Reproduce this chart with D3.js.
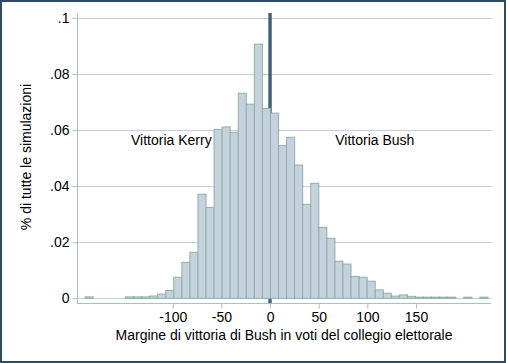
<!DOCTYPE html>
<html>
<head>
<meta charset="utf-8">
<script src="https://cdn.jsdelivr.net/npm/d3@7"></script>
<style>
  body { margin: 0; background: #fff; }
  svg text { font-family: "Liberation Sans", Arial, sans-serif; fill: #000; }
</style>
</head>
<body>
<div id="chart"></div>
<script>
var w = 507,
    h = 363;

// histogram: 50 bins between min and max margin
var binMin = -190,
    binMax = 224,
    nBins = 50;

// fraction of simulations per bin
var fractions = [
  0.0005, 0, 0, 0, 0, 0.0005, 0.0005, 0.0005, 0.0008, 0.0015,
  0.0028, 0.0075, 0.0128, 0.0164, 0.0371, 0.0324, 0.0602, 0.0611, 0.0592, 0.0731,
  0.0692, 0.0906, 0.0677, 0.0660, 0.0545, 0.0574, 0.0475, 0.0335, 0.0410, 0.0253,
  0.0214, 0.0132, 0.0122, 0.0078, 0.0075, 0.0061, 0.0030, 0.0018, 0.0008, 0.0012,
  0.0007, 0.0004, 0.0004, 0.0004, 0.0004, 0.0004, 0, 0.0004, 0, 0.0004
];

var xTicks = [-100, -50, 0, 50, 100, 150];
var yTicks = [0, 0.02, 0.04, 0.06, 0.08, 0.1];
var yTickLabels = ["0", ".02", ".04", ".06", ".08", ".1"];
var notes = [{text: "Vittoria Kerry", x: -60, y: 0.0564, anchor: "end"},
             {text: "Vittoria Bush", x: 67, y: 0.0564, anchor: "start"}];

var binW = (binMax - binMin) / nBins;
var bins = fractions.map(function(f, i){
  return {lo: binMin + i * binW, hi: binMin + (i + 1) * binW, f: f};
});

var fs = "14px";

var svg = d3.select("#chart")
  .append("svg")
  .attr("width", w)
  .attr("height", h);

svg.append("rect")
  .attr("width", w).attr("height", h)
  .attr("fill", "#fff");

// outer frame
svg.append("rect")
  .attr("x", 1).attr("y", 1)
  .attr("width", w - 3).attr("height", h - 2)
  .attr("fill", "none")
  .attr("stroke", "#2f4c64")
  .attr("stroke-width", 2);

var x = d3.scaleLinear()
  .domain([-198.4, 227.1])
  .range([77, 491]);

var y = d3.scaleLinear()
  .domain([0, 0.1])
  .range([298.3, 17.8]);

var plotTop = 13, plotBottom = 303;

// gridlines
svg.append("g")
  .selectAll("line")
  .data(yTicks)
  .enter()
  .append("line")
  .attr("x1", 77).attr("x2", 492)
  .attr("y1", function(d){ return Math.round(y(d)) + 0.5; })
  .attr("y2", function(d){ return Math.round(y(d)) + 0.5; })
  .attr("stroke", "#c3d1dd")
  .attr("stroke-width", 1);

// line at zero margin
svg.append("line")
  .attr("x1", x(0)).attr("x2", x(0))
  .attr("y1", plotTop).attr("y2", plotBottom)
  .attr("stroke", "#3b5f7d")
  .attr("stroke-width", 3.4);

// bars
svg.append("g")
  .selectAll("rect")
  .data(bins.filter(function(d){ return d.f > 0; }))
  .enter()
  .append("rect")
  .attr("x", function(d){ return x(d.lo); })
  .attr("width", function(d){ return x(d.hi) - x(d.lo); })
  .attr("y", function(d){ return y(d.f); })
  .attr("height", function(d){ return y(0) - y(d.f); })
  .attr("fill", "#c5d2de")
  .attr("stroke", "#8fb0a5")
  .attr("stroke-width", 1);

// y axis
var yAxis = d3.axisLeft(y)
  .tickValues(yTicks)
  .tickSize(5)
  .tickPadding(3)
  .tickFormat(function(d, i){ return yTickLabels[i]; });

var gy = svg.append("g")
  .attr("transform", "translate(77.5,0)")
  .call(yAxis);
gy.select(".domain").remove();
gy.append("line")
  .attr("x1", 0).attr("x2", 0)
  .attr("y1", plotTop).attr("y2", plotBottom + 1)
  .attr("stroke", "#a9bccc");
gy.selectAll(".tick line").attr("stroke", "#a9bccc");
gy.selectAll("text")
  .style("font-size", fs)
  .attr("fill", "#000");

// x axis
var xAxis = d3.axisBottom(x)
  .tickValues(xTicks)
  .tickSize(5)
  .tickPadding(4)
  .tickFormat(function(d){ return d < 0 ? "-" + Math.abs(d) : d; });

var gx = svg.append("g")
  .attr("transform", "translate(0," + (plotBottom + 0.5) + ")")
  .call(xAxis);
gx.select(".domain").remove();
gx.append("line")
  .attr("x1", 77).attr("x2", 491)
  .attr("stroke", "#a9bccc");
gx.selectAll(".tick line").attr("stroke", "#a9bccc");
gx.selectAll("text")
  .style("font-size", fs)
  .attr("fill", "#000");

// titles
svg.append("text")
  .attr("x", 284)
  .attr("y", 340)
  .attr("text-anchor", "middle")
  .style("font-size", fs)
  .text("Margine di vittoria di Bush in voti del collegio elettorale");

svg.append("text")
  .attr("transform", "translate(31,157) rotate(-90)")
  .attr("text-anchor", "middle")
  .style("font-size", fs)
  .text("% di tutte le simulazioni");

// annotations
svg.append("g")
  .selectAll("text")
  .data(notes)
  .enter()
  .append("text")
  .attr("x", function(d){ return x(d.x); })
  .attr("y", function(d){ return y(d.y); })
  .attr("dy", "0.35em")
  .attr("text-anchor", function(d){ return d.anchor; })
  .style("font-size", fs)
  .text(function(d){ return d.text; });
</script>
</body>
</html>
